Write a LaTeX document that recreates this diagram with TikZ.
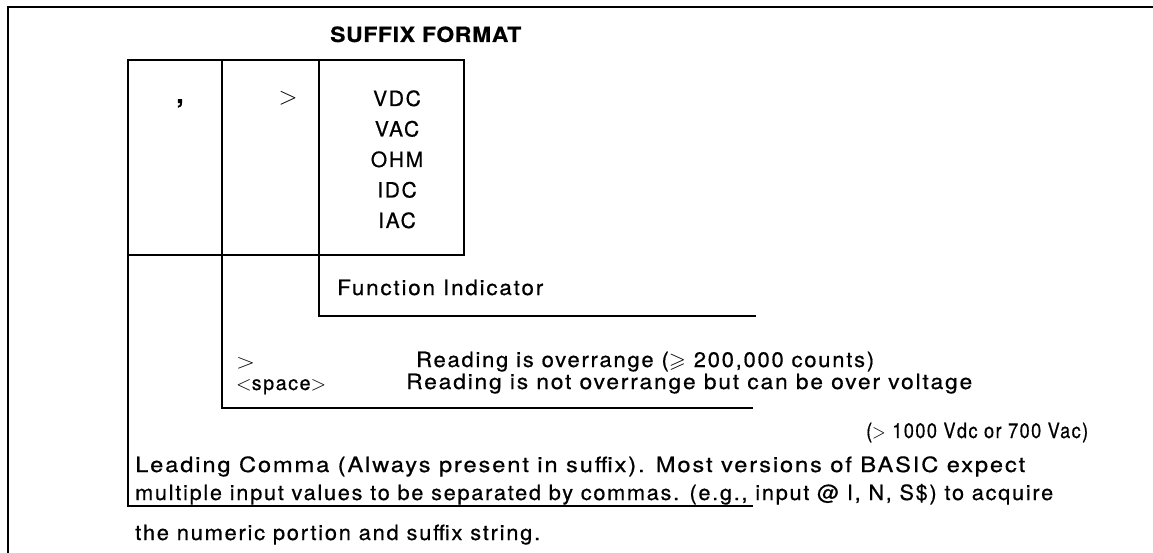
\documentclass[tikz,border=0pt]{standalone}
\usepackage{amssymb}
\usepackage{fontspec}
\setmainfont{TeX Gyre Heros}[LetterSpace=8,FakeBold=0.6]
\usepackage{graphicx}
\newcommand\fitw[2]{\resizebox{#1pt}{\height}{#2}}
\begin{document}
\begin{tikzpicture}[x=1pt,y=-1pt,
  ln/.style={line width=1.8pt,line cap=rect},
  txt/.style={anchor=base west,inner sep=0pt,font=\fontsize{21}{24}\selectfont},
  sym/.style={anchor=base west,inner sep=0pt,text height=10pt,text depth=0pt,font=\fontsize{20}{21}\selectfont},
  ctxt/.style={anchor=base,inner sep=0pt,font=\fontsize{21}{24}\selectfont}]
\useasboundingbox (0,0) rectangle (1153,553);
% frame
\coordinate (ftl) at (8,7);
\coordinate (ftr) at (1153,7);
\coordinate (fbl) at (8,553);
\draw[ln] (ftr) -- (ftl) -- (fbl);
% title
\node[txt,font=\fontsize{21}{24}\selectfont\bfseries\addfontfeature{LetterSpace=3}] (title) at (330,42) {\fitw{191}{SUFFIX FORMAT}};
% table
\coordinate (t1) at (128,60); \coordinate (t2) at (222,60);
\coordinate (t3) at (319,60); \coordinate (t4) at (464,60);
\coordinate (b1) at (128,255); \coordinate (b4) at (464,255);
\draw[ln] (t1) rectangle (b4);
\coordinate (c1) at (128,506); \coordinate (c1e) at (752,506);
\coordinate (c2) at (222,408); \coordinate (c2e) at (752,408);
\coordinate (c3) at (319,316); \coordinate (c3e) at (755,316);
\draw[ln] (t1) -- (c1) -- (c1e);
\draw[ln] (t2) -- (c2) -- (c2e);
\draw[ln] (t3) -- (c3) -- (c3e);
% cells
\node[ctxt,font=\fontsize{26}{28}\selectfont\bfseries] (comma) at (180,103) {,};
\node[sym,anchor=base,font=\fontsize{25}{26}\selectfont] (gt) at (288,105) {$>$};
\node[ctxt] (vdc) at (397,106) {VDC};
\node[ctxt] (vac) at (397,136.5) {VAC};
\node[ctxt] (ohm) at (397,167) {OHM};
\node[ctxt] (idc) at (397,197.5) {IDC};
\node[ctxt] (iac) at (397,228) {IAC};
% descriptions
\node[txt] (fi) at (337,295) {\fitw{206}{Function Indicator}};
\node[sym] (gt2) at (236,368) {\fitw{19}{$>$}};
\node[txt] (ov) at (416,367) {\fitw{458}{Reading is overrange ($\geqslant$ 200,000 counts)}};
\node[sym] (sp) at (236,390) {\fitw{90}{$<$space$>$}};
\node[txt] (nov) at (406,389) {\fitw{566}{Reading is not overrange but can be over voltage}};
\node[txt] (nov2) at (866,438) {\fitw{222}{($>$ 1000 Vdc or 700 Vac)}};
\node[txt] (lc1) at (135,472) {\fitw{890}{Leading Comma (Always present in suffix). Most versions of BASIC expect}};
\node[txt] (lc2) at (135,500) {\fitw{918}{multiple input values to be separated by commas. (e.g., input @ I, N, S\$) to acquire}};
\node[txt] (lc3) at (135,540) {\fitw{405}{the numeric portion and suffix string.}};
\end{tikzpicture}
\end{document}
